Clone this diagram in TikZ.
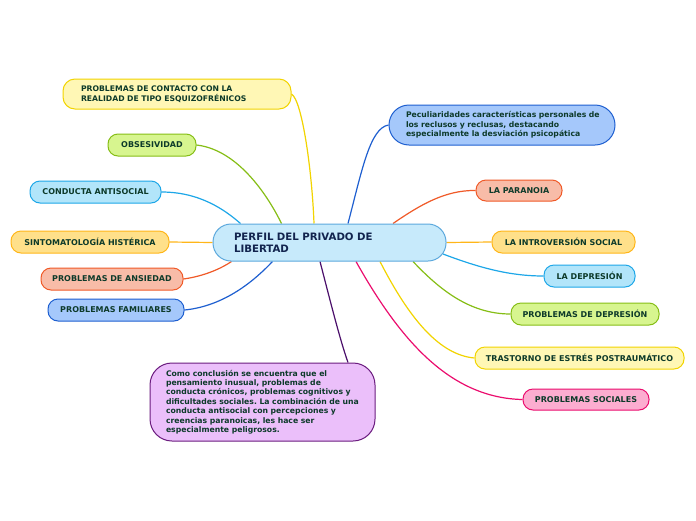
\documentclass[tikz,border=0pt]{standalone}
\usepackage{fontspec}
\setmainfont{DejaVu Sans}
\usetikzlibrary{backgrounds}
\definecolor{txt}{HTML}{0D3A2A}
\definecolor{ctxt}{HTML}{12244E}
\definecolor{yelF}{HTML}{FFF7B5}\definecolor{yelD}{HTML}{F2D400}
\definecolor{grnF}{HTML}{D7F58F}\definecolor{grnD}{HTML}{86BE16}
\definecolor{lbF}{HTML}{B2E5FA}\definecolor{lbD}{HTML}{1DA7E8}
\definecolor{orF}{HTML}{FFE08A}\definecolor{orD}{HTML}{FFB619}
\definecolor{saF}{HTML}{F8BCA8}\definecolor{saD}{HTML}{F05A28}
\definecolor{blF}{HTML}{A5C8FB}\definecolor{blD}{HTML}{1E5FD0}
\definecolor{ceF}{HTML}{C7EAFB}\definecolor{ceD}{HTML}{5DA9DD}
\definecolor{piF}{HTML}{FCADD0}\definecolor{piD}{HTML}{EB0D6E}
\definecolor{puF}{HTML}{EBBFFA}\definecolor{puD}{HTML}{6B1C7F}
\definecolor{puL}{HTML}{4B0F6B}
\newcommand\myl[1]{\mbox{#1}}
\tikzset{
  box/.style={draw, line width=1pt, rounded corners=10pt, inner sep=0pt,
    text=txt, font=\fontsize{8}{10}\selectfont\bfseries\frenchspacing, align=center},
  mbox/.style={box, align=left, font=\fontsize{7.7}{9.6}\selectfont\bfseries\frenchspacing},
  conn/.style={line width=1.2pt},
}
\begin{document}
\begin{tikzpicture}[x=1pt,y=-1pt]
\path[use as bounding box] (0,0) rectangle (696,520);

\node[mbox, fill=yelF, draw=yelD, rounded corners=12pt, minimum height=30pt, text width=192pt, inner xsep=18pt, font=\fontsize{7.7}{10}\selectfont\bfseries] (n1) at (177,94) {\myl{PROBLEMAS DE CONTACTO CON LA}\\\myl{REALIDAD DE TIPO ESQUIZOFRÉNICOS}};
\node[box, fill=grnF, draw=grnD, minimum width=88pt, minimum height=22pt] (n2) at (152,145) {OBSESIVIDAD};
\node[box, fill=lbF, draw=lbD, minimum width=131pt, minimum height=22pt] (n3) at (95.5,192) {CONDUCTA ANTISOCIAL};
\node[box, fill=orF, draw=orD, minimum width=158pt, minimum height=22pt] (n4) at (90,242) {SINTOMATOLOGÍA HISTÉRICA};
\node[box, fill=saF, draw=saD, minimum width=142pt, minimum height=22pt] (n5) at (112,279) {PROBLEMAS DE ANSIEDAD};
\node[box, fill=blF, draw=blD, minimum width=136pt, minimum height=22pt] (n6) at (116,310) {PROBLEMAS FAMILIARES};

\node[mbox, fill=ceF, draw=ceD, rounded corners=18pt, minimum height=37pt, text width=191pt, inner xsep=21pt, text=ctxt, font=\fontsize{10.2}{12}\selectfont\bfseries] (c) at (329.5,242.5) {\myl{PERFIL DEL PRIVADO DE}\\\myl{LIBERTAD}};

\node[mbox, fill=blF, draw=blD, rounded corners=20pt, minimum height=40pt, text width=192pt, inner xsep=17pt] (n8) at (502,125) {\myl{Peculiaridades características personales de}\\\myl{los reclusos y reclusas, destacando}\\\myl{especialmente la desviación psicopática}};
\node[box, fill=saF, draw=saD, minimum width=86pt, minimum height=21pt] (n9) at (519,190.5) {LA PARANOIA};
\node[box, fill=orF, draw=orD, minimum width=143pt, minimum height=22pt] (n10) at (563.5,242) {LA INTROVERSIÓN SOCIAL};
\node[box, fill=lbF, draw=lbD, minimum width=91pt, minimum height=22pt] (n11) at (589.5,276) {LA DEPRESIÓN};
\node[box, fill=grnF, draw=grnD, minimum width=148pt, minimum height=22pt] (n12) at (585,314) {PROBLEMAS DE DEPRESIÓN};
\node[box, fill=yelF, draw=yelD, minimum width=209pt, minimum height=22pt] (n13) at (579.5,358) {TRASTORNO DE ESTRÉS POSTRAUMÁTICO};
\node[box, fill=piF, draw=piD, minimum width=126pt, minimum height=21pt] (n14) at (586,399.5) {PROBLEMAS SOCIALES};
\node[mbox, fill=puF, draw=puD, rounded corners=22pt, minimum height=78pt, text width=193pt, inner xsep=16pt, font=\fontsize{7.7}{9.4}\selectfont\bfseries\frenchspacing] (n15) at (262.5,402) {\myl{Como conclusión se encuentra que el}\\\myl{pensamiento inusual, problemas de}\\\myl{conducta crónicos, problemas cognitivos y}\\\myl{dificultades sociales. La combinación de una}\\\myl{conducta antisocial con percepciones y}\\\myl{creencias paranoicas, les hace ser}\\\myl{especialmente peligrosos.}};

\coordinate (e11) at (443,254);
\begin{scope}[on background layer]
\fill[white] (0,0) rectangle (696,520);
\draw[conn, yelD] (n1.east) .. controls (302,100) and (312,170) .. ([xshift=-15.5pt]c.north);
\draw[conn, grnD] (n2.east) .. controls (240,150) and (270,200) .. ([xshift=-48pt]c.north);
\draw[conn, lbD] (n3.east) .. controls (200,192) and (225,210) .. ([xshift=-89pt]c.north);
\draw[conn, orD] (n4.east) -- (c.west);
\draw[conn, saD] (n5.east) .. controls (205,276) and (222,268) .. ([xshift=-98pt]c.south);
\draw[conn, blD] (n6.east) .. controls (225,306) and (255,280) .. ([xshift=-57pt]c.south);
\draw[conn, blD] ([xshift=18.5pt]c.north) .. controls (362,170) and (370,128) .. (n8.west);
\draw[conn, saD] ([xshift=63.5pt]c.north) .. controls (420,205) and (445,190) .. (n9.west);
\draw[conn, orD] (c.east) -- (n10.west);
\draw[conn, lbD] (e11) .. controls (480,268) and (510,276) .. (n11.west);
\draw[conn, grnD] ([xshift=83.5pt]c.south) .. controls (440,290) and (470,314) .. (n12.west);
\draw[conn, yelD] ([xshift=50.5pt]c.south) .. controls (410,320) and (440,355) .. (n13.west);
\draw[conn, piD] ([xshift=26.5pt]c.south) .. controls (400,340) and (450,398) .. (n14.west);
\draw[conn, puL] ([xshift=-9.5pt]c.south) .. controls (330,300) and (340,340) .. ([xshift=85.5pt]n15.north);
\end{scope}
\end{tikzpicture}
\end{document}
